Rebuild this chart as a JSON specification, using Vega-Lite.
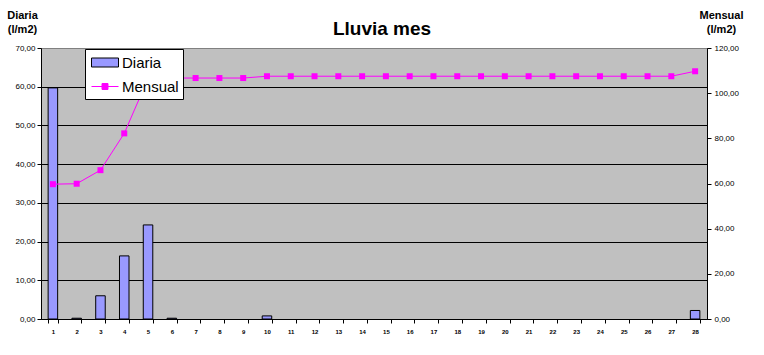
{
  "$schema": "https://vega.github.io/schema/vega-lite/v6.json",
  "width": 666,
  "height": 271,
  "autosize": {"type": "none"},
  "padding": {"left": 41, "top": 48, "right": 57, "bottom": 36},
  "background": "white",
  "title": {"text": "Lluvia mes", "font": "Liberation Sans", "fontSize": 19, "fontWeight": "bold", "color": "black", "anchor": "middle", "dx": 8, "dy": 40, "offset": 11},
  "config": {
    "view": {"fill": "#C0C0C0", "stroke": "#808080"},
    "axis": {"labelFont": "Liberation Sans", "labelColor": "black", "tickColor": "black", "domainColor": "black", "titleFont": "Liberation Sans", "titleColor": "black"},
    "legend": {
      "title": null, "orient": "none", "legendX": 44, "legendY": 1,
      "fillColor": "white", "strokeColor": "black", "padding": 4,
      "labelFont": "Liberation Sans", "labelFontSize": 15, "labelColor": "black",
      "symbolSize": 324, "symbolOffset": 6.5, "rowPadding": 6, "labelOffset": 7.5,
      "symbolStrokeWidth": 1, "symbolOpacity": 1
    }
  },
  "data": {"values": [
    {"dia": 1, "diaria": 59.7, "mensual": 59.7},
    {"dia": 2, "diaria": 0.2, "mensual": 59.9},
    {"dia": 3, "diaria": 6.0, "mensual": 65.9},
    {"dia": 4, "diaria": 16.3, "mensual": 82.2},
    {"dia": 5, "diaria": 24.3, "mensual": 106.5},
    {"dia": 6, "diaria": 0.2, "mensual": 106.7},
    {"dia": 7, "diaria": 0, "mensual": 106.7},
    {"dia": 8, "diaria": 0, "mensual": 106.7},
    {"dia": 9, "diaria": 0, "mensual": 106.7},
    {"dia": 10, "diaria": 0.8, "mensual": 107.5},
    {"dia": 11, "diaria": 0, "mensual": 107.5},
    {"dia": 12, "diaria": 0, "mensual": 107.5},
    {"dia": 13, "diaria": 0, "mensual": 107.5},
    {"dia": 14, "diaria": 0, "mensual": 107.5},
    {"dia": 15, "diaria": 0, "mensual": 107.5},
    {"dia": 16, "diaria": 0, "mensual": 107.5},
    {"dia": 17, "diaria": 0, "mensual": 107.5},
    {"dia": 18, "diaria": 0, "mensual": 107.5},
    {"dia": 19, "diaria": 0, "mensual": 107.5},
    {"dia": 20, "diaria": 0, "mensual": 107.5},
    {"dia": 21, "diaria": 0, "mensual": 107.5},
    {"dia": 22, "diaria": 0, "mensual": 107.5},
    {"dia": 23, "diaria": 0, "mensual": 107.5},
    {"dia": 24, "diaria": 0, "mensual": 107.5},
    {"dia": 25, "diaria": 0, "mensual": 107.5},
    {"dia": 26, "diaria": 0, "mensual": 107.5},
    {"dia": 27, "diaria": 0, "mensual": 107.5},
    {"dia": 28, "diaria": 2.2, "mensual": 109.7}
  ]},
  "encoding": {
    "x": {
      "field": "dia", "type": "ordinal",
      "scale": {"paddingInner": 0.6, "paddingOuter": 0.3},
      "axis": {"title": null, "labelAngle": 0, "labelFontSize": 6, "labelFontWeight": "bold", "tickSize": 4, "tickBand": "extent", "labelPadding": 5}
    }
  },
  "layer": [
    {
      "transform": [{"filter": "datum.diaria > 0"}],
      "mark": {"type": "bar", "stroke": "black", "strokeWidth": 1},
      "encoding": {
        "y": {
          "field": "diaria", "type": "quantitative",
          "scale": {"domain": [0, 70], "nice": false},
          "axis": {
            "orient": "left", "values": [0, 10, 20, 30, 40, 50, 60, 70],
            "labelExpr": "replace(format(datum.value, '.2f'), '.', ',')",
            "labelFontSize": 8, "tickSize": 4, "labelPadding": 2,
            "grid": true, "gridColor": {"condition": {"test": "datum.value === 70", "value": "#808080"}, "value": "black"}, "gridWidth": 1,
            "title": ["Diaria", "(l/m2)"], "titleAngle": 0, "titleX": -19, "titleY": -29.5,
            "titleAlign": "center", "titleBaseline": "alphabetic", "titleFontSize": 11, "titleFontWeight": "bold", "titleLineHeight": 14
          }
        },
        "color": {
          "datum": "Diaria", "type": "nominal",
          "scale": {"domain": ["Diaria", "Mensual"], "range": ["#9999FF", "#FF00FF"]}
        }
      }
    },
    {
      "mark": {"type": "line", "strokeWidth": 1, "color": "#FF00FF", "point": {"shape": "square", "size": 36, "filled": true, "color": "#FF00FF", "strokeWidth": 0}},
      "encoding": {
        "y": {
          "field": "mensual", "type": "quantitative",
          "scale": {"domain": [0, 120], "nice": false},
          "axis": {
            "orient": "right", "values": [0, 20, 40, 60, 80, 100, 120],
            "labelExpr": "replace(format(datum.value, '.2f'), '.', ',')",
            "labelFontSize": 8, "tickSize": 4, "labelPadding": 3, "grid": false,
            "title": ["Mensual", "(l/m2)"], "titleAngle": 0, "titleX": 14, "titleY": -29.5,
            "titleAlign": "center", "titleBaseline": "alphabetic", "titleFontSize": 11, "titleFontWeight": "bold", "titleLineHeight": 14
          }
        },
        "stroke": {
          "datum": "Mensual", "type": "nominal",
          "scale": {"domain": ["Diaria", "Mensual"], "range": ["black", "#FF00FF"]}
        }
      }
    },
    {
      "transform": [{"filter": "false"}],
      "mark": {"type": "point", "filled": true, "opacity": 1},
      "encoding": {
        "shape": {
          "datum": "Mensual", "type": "nominal",
          "scale": {"domain": ["Diaria", "Mensual"], "range": ["M-1.5,-0.5H1.5V0.5H-1.5Z", "M-1.5,0H1.5M-0.33,-0.33H0.33V0.33H-0.33Z"]}
        }
      }
    }
  ],
  "resolve": {"scale": {"y": "independent"}}
}
